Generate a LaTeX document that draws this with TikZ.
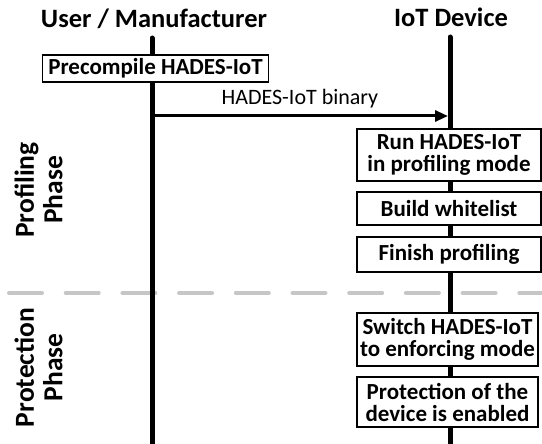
\documentclass[tikz,border=0pt]{standalone}
\usepackage{fontspec}
\setmainfont{Carlito}
\usepackage{tikz}
\usetikzlibrary{arrows.meta}

\begin{document}
\begin{tikzpicture}[x=1pt,y=-1pt]
\tikzset{>={Triangle[width=11pt,length=13pt]}}
\tikzstyle{actor} =[font=\bfseries\fontsize{26.5}{28}\selectfont,inner sep=0pt]
\tikzstyle{action} =[draw,fill=white,line width=1.4pt,align=center,inner sep=0pt,font=\bfseries\fontsize{23}{22}\selectfont]
\tikzstyle{phase} =[rotate=90,align=center,inner sep=0pt,font=\bfseries\fontsize{27.5}{28.5}\selectfont]
\tikzstyle{lifeline} =[line width=5pt,line cap=round]

\useasboundingbox (0,0) rectangle (542,444);

\node[actor](user) at (154,19){User / Manufacturer};
\node[actor](iot) at (451,17){IoT Device};
\coordinate (userend) at (152,450);
\coordinate (iotend) at (450,450);

\draw [gray!45,line width=4pt,line cap=round,dash pattern=on 33pt off 23.7pt] (9,293) -- (545,293);

\draw [lifeline] (152,38) -- (userend);
\draw [lifeline] (450,37) -- (iotend);

\node[phase](prof) at (38.5,190){Profiling\\Phase};
\node[phase](prot) at (38.5,367.5){Protection\\Phase};

\node[action,minimum width=226pt,minimum height=27pt](precomp) at (155.5,68.5){Precompile HADES-IoT};
\node[action,minimum width=184pt,minimum height=52pt](run) at (449,155){Run HADES-IoT\\in profiling mode};
\node[action,minimum width=184pt,minimum height=33pt](build) at (449,208.5){Build whitelist};
\node[action,minimum width=184pt,minimum height=35pt](finish) at (449,254.5){Finish profiling};
\node[action,minimum width=181pt,minimum height=53pt](switch) at (447.5,339.5){Switch HADES-IoT\\to enforcing mode};
\node[action,minimum width=181pt,minimum height=50pt](enabled) at (447.5,402){Protection of the\\device is enabled};

\coordinate (send) at (152,116);
\coordinate (recv) at (448,116);
\draw [->,line width=3pt] (send) to node[above=3pt,font=\fontsize{22}{24}\selectfont]{HADES-IoT binary} (recv);
\end{tikzpicture}
\end{document}
